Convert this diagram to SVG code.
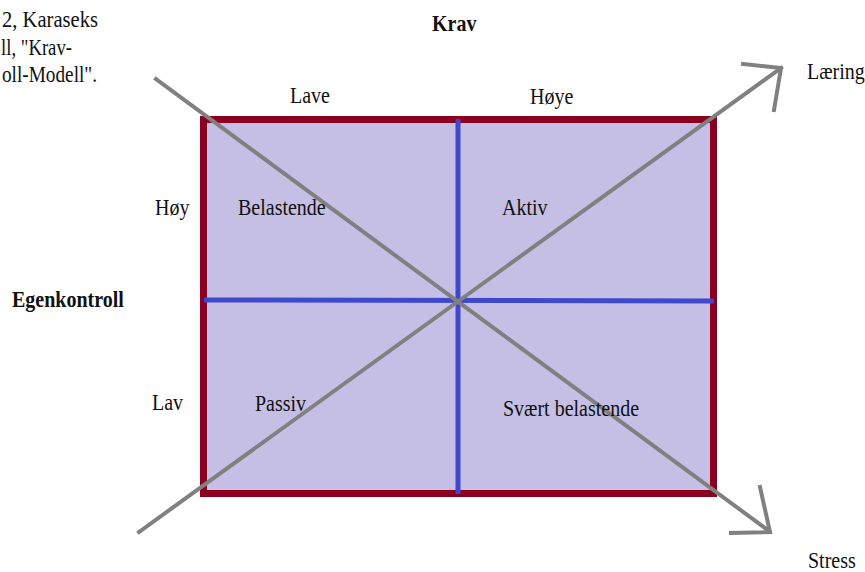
<svg xmlns="http://www.w3.org/2000/svg" width="865" height="572" viewBox="0 0 865 572">
<style>
text{font-family:"Liberation Serif","Times New Roman",serif;font-size:20px;fill:#111}
.b{font-weight:bold}
.gray{stroke:#808080;stroke-width:4;fill:none;stroke-linecap:square}
.blue{stroke:#3F48CC;stroke-width:5}
</style>
<rect width="865" height="572" fill="#fff"/>
<g id="caption">
<text transform="translate(2,27) scale(1,1.2)" textLength="96" lengthAdjust="spacingAndGlyphs">2, Karaseks</text>
<text transform="translate(1,55) scale(1,1.2)" textLength="71" lengthAdjust="spacingAndGlyphs">ll, "Krav-</text>
<text transform="translate(2,82) scale(1,1.2)" textLength="95" lengthAdjust="spacingAndGlyphs">oll-Modell".</text>
</g>
<g id="box">
<rect x="203.5" y="119.5" width="510" height="374" fill="#C5BFE5" stroke="#8B0020" stroke-width="7"/>
</g>
<g id="dividers">
<line class="blue" x1="458" y1="119" x2="458" y2="494"/>
<line class="blue" x1="204" y1="300" x2="714" y2="301"/>
</g>
<g id="connectors">
<line class="gray" x1="156" y1="79" x2="769" y2="531"/>
<polyline class="gray" points="760,487 770,532 731,533"/>
<line class="gray" x1="139" y1="532" x2="781" y2="68"/>
<polyline class="gray" points="743,64 781,68 774,110"/>
</g>
<g id="labels">
<text class="b" transform="translate(432,31) scale(1,1.2)">Krav</text>
<text transform="translate(290,103) scale(1,1.2)">Lave</text>
<text transform="translate(530,104) scale(1,1.2)">Høye</text>
<text transform="translate(155,215) scale(1,1.2)">Høy</text>
<text transform="translate(238,215) scale(1,1.2)">Belastende</text>
<text transform="translate(502,215) scale(1,1.2)">Aktiv</text>
<text class="b" transform="translate(12,307) scale(1,1.2)">Egenkontroll</text>
<text transform="translate(152,410) scale(1,1.2)">Lav</text>
<text transform="translate(255,411) scale(1,1.2)">Passiv</text>
<text transform="translate(503,416) scale(1,1.2)">Svært belastende</text>
<text transform="translate(807,79) scale(1,1.2)">Læring</text>
<text transform="translate(808,568) scale(1,1.2)">Stress</text>
</g>
</svg>
